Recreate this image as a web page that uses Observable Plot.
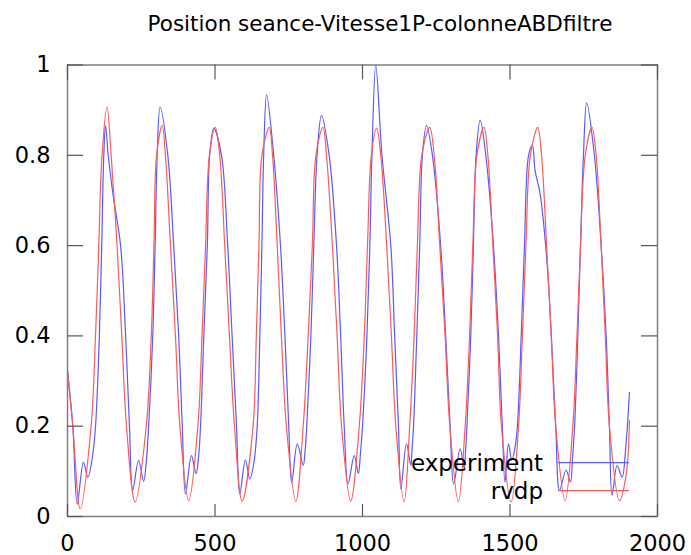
<!DOCTYPE html>
<html><head><meta charset="utf-8">
<script src="https://cdn.jsdelivr.net/npm/d3@7"></script>
<script src="https://cdn.jsdelivr.net/npm/@observablehq/plot@0.6"></script>
<style>
html,body{margin:0;padding:0;background:#fff;}
#wrap{position:relative;width:691px;height:555px;font-family:"DejaVu Sans",sans-serif;overflow:hidden;}
#title{position:absolute;left:0;width:760px;text-align:center;top:13px;font-size:21.5px;line-height:1;color:#000;white-space:nowrap;}
#chart{position:absolute;left:0;top:0;}
</style></head><body>
<div id="wrap"><div id="chart"></div><div id="title"></div></div>
<script>
const titleText = "Position seance-Vitesse1P-colonneABDfiltre";
const seriesNames = ["experiment", "rvdp"];
const seriesColors = ["#5a5aff", "#ff5a5a"];
const xTicks = [0, 500, 1000, 1500, 2000];
const xTickLabels = ["0", "500", "1000", "1500", "2000"];
const yTicks = [0, 0.2, 0.4, 0.6, 0.8, 1];
const yTickLabels = ["0", "0.2", "0.4", "0.6", "0.8", "1"];

// experiment (blue)
const expX = [0,18,33,54,69,84,95,108,116,123,129,138,155,180,197,210,221,241,258,267,275,289,297,304,314,340,360,377,389,400,420,436,444,451,462,474,482,496,522,543,558,573,584,603,618,632,643,652,659,665,675,699,722,737,750,760,779,799,806,811,825,835,846,861,887,912,926,938,951,972,986,993,1000,1015,1025,1032,1045,1066,1096,1109,1122,1130,1149,1164,1168,1173,1184,1194,1203,1217,1237,1265,1282,1297,1309,1331,1345,1349,1354,1367,1376,1385,1399,1418,1444,1461,1474,1483,1495,1506,1517,1525,1538,1549,1563,1576,1585,1602,1625,1640,1655,1668,1690,1705,1712,1719,1730,1739,1749,1760,1786,1809,1826,1837,1846,1863,1880,1892,1905];
const expY = [0.323,0.2,0.028,0.12,0.087,0.13,0.2,0.4,0.6,0.8,0.866,0.8,0.71,0.6,0.4,0.2,0.058,0.124,0.078,0.12,0.2,0.4,0.6,0.8,0.907,0.8,0.6,0.4,0.2,0.05,0.135,0.095,0.13,0.2,0.4,0.6,0.8,0.86,0.8,0.6,0.4,0.2,0.05,0.125,0.083,0.12,0.2,0.4,0.6,0.8,0.934,0.8,0.6,0.4,0.2,0.075,0.161,0.113,0.15,0.2,0.4,0.6,0.8,0.888,0.8,0.6,0.4,0.2,0.072,0.135,0.095,0.14,0.2,0.4,0.6,0.8,0.999,0.8,0.6,0.4,0.2,0.061,0.161,0.113,0.15,0.2,0.4,0.6,0.8,0.866,0.8,0.6,0.4,0.2,0.072,0.15,0.106,0.14,0.2,0.4,0.6,0.8,0.878,0.8,0.6,0.4,0.2,0.076,0.161,0.124,0.153,0.2,0.4,0.6,0.8,0.822,0.766,0.715,0.567,0.4,0.2,0.058,0.103,0.076,0.13,0.2,0.4,0.6,0.8,0.916,0.8,0.6,0.4,0.2,0.047,0.113,0.087,0.15,0.275];

// rvdp (red)
const rvdpX = [0,18,43,80,95,106,117,134,148,168,184,200,229,267,284,293,302,321,332,349,366,381,411,442,456,468,481,501,516,533,549,566,592,629,640,649,659,684,695,711,725,742,774,799,816,830,842,866,878,898,914,929,960,989,1006,1017,1030,1048,1062,1082,1098,1113,1141,1160,1175,1186,1201,1228,1243,1262,1280,1296,1325,1348,1363,1374,1388,1412,1425,1442,1458,1471,1504,1529,1542,1554,1569,1594,1607,1624,1640,1655,1687,1713,1727,1739,1755,1778,1792,1809,1823,1837,1871,1894,1905];
const rvdpY = [0.323,0.2,0.017,0.2,0.4,0.6,0.8,0.907,0.8,0.6,0.4,0.2,0.032,0.2,0.4,0.6,0.8,0.866,0.8,0.6,0.4,0.2,0.035,0.2,0.4,0.6,0.8,0.862,0.8,0.6,0.4,0.2,0.034,0.2,0.4,0.6,0.8,0.862,0.8,0.6,0.4,0.2,0.034,0.2,0.4,0.6,0.8,0.862,0.8,0.6,0.4,0.2,0.034,0.2,0.4,0.6,0.8,0.86,0.8,0.6,0.4,0.2,0.032,0.2,0.4,0.6,0.8,0.862,0.8,0.6,0.4,0.2,0.032,0.2,0.4,0.6,0.8,0.862,0.8,0.6,0.4,0.2,0.032,0.2,0.4,0.6,0.8,0.862,0.8,0.6,0.4,0.2,0.035,0.2,0.4,0.6,0.8,0.862,0.8,0.6,0.4,0.2,0.035,0.094,0.213];

document.getElementById("title").textContent = titleText;

const expData = expX.map((x, i) => ({x, y: expY[i]}));
const rvdpData = rvdpX.map((x, i) => ({x, y: rvdpY[i]}));

const W = 691, H = 555;
const mL = 67, mR = 34, mT = 64.5, mB = 39;
const fw = W - mL - mR, fh = H - mT - mB;
const font = "DejaVu Sans";
const tickFont = 22.5;

function legendMark(index, scales, values, dims) {
  const g = d3.create("svg:g");
  const xr = 543, x1 = 558, x2 = 629;
  const ys = [462.7, 490.7];
  seriesNames.forEach((name, i) => {
    g.append("text").attr("x", xr).attr("y", ys[i]).attr("dy", "0.36em")
      .attr("text-anchor", "end").attr("font-family", font).attr("font-size", 23)
      .attr("fill", "#000").text(name);
    g.append("line").attr("x1", x1).attr("x2", x2).attr("y1", ys[i]).attr("y2", ys[i])
      .attr("stroke", seriesColors[i]).attr("stroke-width", 1.2);
  });
  return g.node();
}

const plot = Plot.plot({
  width: W, height: H,
  marginLeft: mL, marginRight: mR, marginTop: mT, marginBottom: mB,
  style: {fontFamily: font, fontSize: tickFont + "px", color: "#000", background: "#fff", overflow: "visible"},
  x: {domain: [0, 2000], axis: null},
  y: {domain: [0, 1], axis: null},
  marks: [
    Plot.line(expData, {x: "x", y: "y", stroke: seriesColors[0], strokeWidth: 1.2, curve: "catmull-rom"}),
    Plot.line(rvdpData, {x: "x", y: "y", stroke: seriesColors[1], strokeWidth: 1.2, curve: "catmull-rom"}),
    Plot.frame({stroke: "#808080", strokeWidth: 1.5}),
    Plot.tickY(yTicks, {y: d => d, insetRight: fw - 16, stroke: "#555", strokeWidth: 1.2}),
    Plot.tickY(yTicks, {y: d => d, insetLeft: fw - 16, stroke: "#555", strokeWidth: 1.2}),
    Plot.tickX(xTicks, {x: d => d, insetTop: fh - 12, stroke: "#555", strokeWidth: 1.2}),
    Plot.tickX(xTicks, {x: d => d, insetBottom: fh - 15, stroke: "#555", strokeWidth: 1.2}),
    Plot.axisX(xTicks, {anchor: "bottom", tickSize: 0, tickPadding: 19, fontSize: tickFont, label: null,
      tickFormat: d => xTickLabels[xTicks.indexOf(d)]}),
    Plot.axisY(yTicks, {anchor: "left", tickSize: 0, tickPadding: 17, fontSize: tickFont, label: null,
      tickFormat: d => yTickLabels[yTicks.indexOf(d)]}),
    legendMark
  ]
});
document.getElementById("chart").appendChild(plot);
</script>
</body></html>
